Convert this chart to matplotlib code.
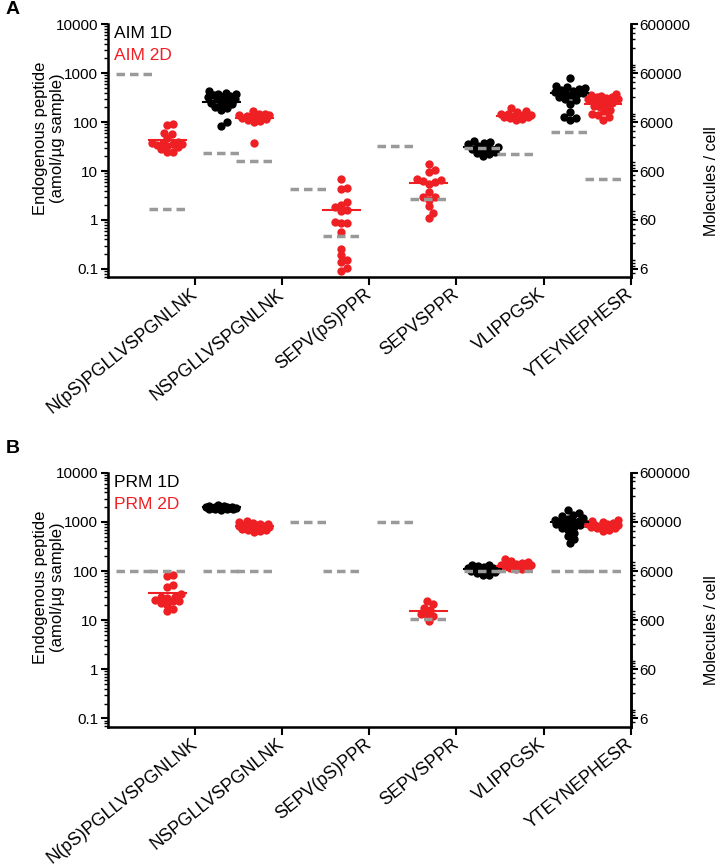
import numpy as np
import matplotlib
matplotlib.use('Agg')
import matplotlib.pyplot as plt
from matplotlib.ticker import FixedLocator, LogLocator, NullFormatter

plt.rcParams['font.family'] = ['Liberation Sans', 'DejaVu Sans']

peptides = ['N(pS)PGLLVSPGNLNK', 'NSPGLLVSPGNLNK', 'SEPV(pS)PPR',
            'SEPVSPPR', 'VLIPPGSK', 'YTEYNEPHESR']

# panel A (AIM), amol/ug sample
aim_1d = [[],
          [440, 400, 380, 370, 350, 340, 330, 320, 300, 290, 270, 250, 240, 230, 200, 190, 180, 100, 85],
          [], [],
          [42, 40, 37, 35, 33, 31, 30, 28, 27, 25, 23, 22, 20],
          [800, 560, 520, 500, 480, 460, 440, 420, 400, 390, 370, 350, 330, 300, 280, 240, 160, 130, 120, 112]]
aim_2d = [[92, 88, 60, 57, 47, 40, 38, 37, 36, 35, 34, 33, 31, 28, 25, 24],
          [165, 150, 145, 140, 138, 135, 130, 128, 125, 120, 118, 112, 105, 100, 38],
          [6.8, 4.6, 4.2, 2.3, 2.0, 1.8, 1.6, 1.5, 0.9, 0.88, 0.85, 0.57, 0.26, 0.19, 0.15, 0.14, 0.105, 0.09],
          [14, 10.5, 9.7, 7.0, 6.6, 6.3, 6.0, 5.4, 3.8, 3.0, 2.9, 2.6, 1.9, 1.4, 1.1],
          [190, 165, 160, 150, 145, 140, 138, 135, 132, 128, 125, 120, 115, 112],
          [380, 360, 340, 330, 320, 310, 300, 290, 280, 270, 250, 230, 210, 200, 180, 165, 150, 138, 125, 113]]
aim_med_1d = [None, 260, None, None, 31, 395]
aim_med_2d = [43, 122, 1.6, 5.6, 136, 240]
aim_ref_1d = [950, 23, 4.3, 32, 30, 63]
aim_ref_2d = [1.7, 16, 0.46, 2.7, 22, 6.9]

# panel B (PRM)
prm_1d = [[],
          [2200, 2150, 2100, 2050, 2050, 2000, 2000, 1980, 1950, 1950, 1900, 1900, 1880, 1850, 1850, 1800, 1800, 1750],
          [], [],
          [135, 130, 125, 120, 118, 115, 112, 110, 108, 105, 102, 100, 95, 90, 85, 82],
          [1780, 1500, 1400, 1300, 1200, 1150, 1100, 1050, 1000, 980, 950, 920, 900, 850, 800, 750, 700, 600, 520, 450, 370]]
prm_2d = [[85, 80, 52, 47, 34, 30, 29, 28, 26, 25, 24, 22, 20, 17, 15],
          [1050, 1000, 950, 920, 900, 880, 860, 850, 830, 820, 800, 790, 780, 760, 740, 720, 700, 680, 650, 620],
          [],
          [24, 21, 17.5, 16, 13.5, 12.5, 12, 9.5],
          [175, 160, 150, 145, 140, 135, 132, 130, 128, 125, 122, 120, 118, 115, 112, 110],
          [1100, 1050, 1000, 950, 920, 900, 880, 860, 840, 820, 800, 780, 760, 740, 700, 650]]
prm_med_1d = [None, 1980, None, None, 108, 1000]
prm_med_2d = [36, 830, None, 15, 125, 830]
prm_ref_1d = [100, 100, 1000, 1000, 100, 100]
prm_ref_2d = [100, 100, 100, 10.5, 100, 100]

RED = '#ee2024'
GRAY = '#9a9a9a'
C1, C2, HW = 0.30, 0.68, 0.21


def swarm(vals, center, d=6.0, cap=15.0, px_unit=87.0, px_dec=49.0):
    # small beeswarm, sideways spread limited to +-cap pixels
    ys = np.log10(np.asarray(vals, float)) * px_dec
    xs = np.zeros(len(ys))
    placed = []
    cands = [0.0]
    for k in range(1, int(cap / 1.5) + 1):
        cands += [k * 1.5, -k * 1.5]
    for i in np.argsort(ys):
        y = ys[i]
        best, bestd = 0.0, -1.0
        for x in cands:
            md = min([np.hypot(x - px, y - py) for px, py in placed] + [99.0])
            if md >= d:
                best = x
                break
            if md > bestd:
                best, bestd = x, md
        placed.append((best, y))
        xs[i] = best
    return center + xs / px_unit


def panel(ax, d1, d2, m1, m2, r1, r2, lab1, lab2):
    for i in range(6):
        for vals, c, col in ((d1[i], C1, 'black'), (d2[i], C2, RED)):
            if len(vals):
                ax.scatter(swarm(vals, i + c), vals, s=36, color=col, lw=0, zorder=3)
        for m, c, col in ((m1[i], C1, 'black'), (m2[i], C2, RED)):
            if m is not None:
                ax.plot([i + c - HW, i + c + HW], [m, m], color=col, lw=1.5, zorder=4)
        for r, c in ((r1[i], C1), (r2[i], C2)):
            ax.plot([i + c - HW, i + c + HW], [r, r], color=GRAY, lw=2.5,
                    dashes=(2.45, 1.44), zorder=5, solid_capstyle='butt')
    ax.set_yscale('log')
    ax.set_ylim(0.068, 10000)
    ax.set_xlim(0, 6)
    ax.yaxis.set_major_locator(FixedLocator([0.1, 1, 10, 100, 1000, 10000]))
    ax.set_yticklabels(['0.1', '1', '10', '100', '1000', '10000'])
    ax.yaxis.set_minor_locator(LogLocator(base=10, subs=np.arange(2, 10), numticks=20))
    ax.yaxis.set_minor_formatter(NullFormatter())
    ax.set_xticks(np.arange(1, 7))
    ax.set_xticklabels(peptides, rotation=39, ha='right', va='center', rotation_mode='anchor')
    ax.tick_params(axis='x', length=6, width=1.5, labelsize=12.8, pad=5)
    ax.tick_params(axis='y', which='major', length=5, width=1.5, labelsize=11, pad=2)
    ax.tick_params(axis='y', which='minor', length=3, width=1)
    ax.spines['top'].set_visible(False)
    for s in ('left', 'bottom', 'right'):
        ax.spines[s].set_linewidth(1.8)
    ax.set_ylabel('Endogenous peptide\n(amol/\u00b5g sample)', fontsize=12)
    ax.yaxis.set_label_coords(-0.082, 0.55)
    ax.text(0.012, 0.963, lab1, transform=ax.transAxes, fontsize=12.5, color='black', va='center')
    ax.text(0.012, 0.877, lab2, transform=ax.transAxes, fontsize=12.5, color=RED, va='center')

    ax2 = ax.twinx()
    ax2.set_yscale('log')
    lo, hi = ax.get_ylim()
    ax2.set_ylim(lo * 60, hi * 60)
    ax2.yaxis.set_major_locator(FixedLocator([6, 60, 600, 6000, 60000, 600000]))
    ax2.set_yticklabels(['6', '60', '600', '6000', '60000', '600000'])
    ax2.yaxis.set_minor_locator(LogLocator(base=10, subs=np.arange(2, 10), numticks=20))
    ax2.yaxis.set_minor_formatter(NullFormatter())
    ax2.tick_params(axis='y', which='major', length=5, width=1.5, labelsize=11, pad=1)
    ax2.tick_params(axis='y', which='minor', length=3, width=1)
    ax2.spines['top'].set_visible(False)
    ax2.spines['right'].set_linewidth(1.8)
    ax2.set_ylabel('Molecules / cell', fontsize=11.5)
    ax2.yaxis.set_label_coords(1.14, 0.38)


fig = plt.figure(figsize=(7.2, 8.66), dpi=100)
axA = fig.add_axes([0.15, 0.680, 0.726, 0.292])
axB = fig.add_axes([0.15, 0.161, 0.726, 0.293])
panel(axA, aim_1d, aim_2d, aim_med_1d, aim_med_2d, aim_ref_1d, aim_ref_2d, 'AIM 1D', 'AIM 2D')
panel(axB, prm_1d, prm_2d, prm_med_1d, prm_med_2d, prm_ref_1d, prm_ref_2d, 'PRM 1D', 'PRM 2D')
fig.text(0.008, 1 - 10 / 866, 'A', fontsize=14, fontweight='bold', va='center')
fig.text(0.008, 1 - 448 / 866, 'B', fontsize=14, fontweight='bold', va='center')
fig.savefig('out.png', dpi=100)
